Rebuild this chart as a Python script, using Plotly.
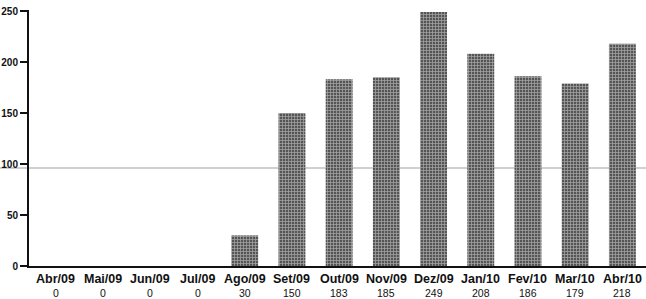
import plotly.graph_objects as go

months = ["Abr/09", "Mai/09", "Jun/09", "Jul/09", "Ago/09", "Set/09", "Out/09",
          "Nov/09", "Dez/09", "Jan/10", "Fev/10", "Mar/10", "Abr/10"]
values = [0, 0, 0, 0, 30, 150, 183, 185, 249, 208, 186, 179, 218]
value_labels = ["0", "0", "0", "0", "30", "150", "183", "185", "249", "208", "186", "179", "218"]
y_ticks = [0, 50, 100, 150, 200, 250]

x_idx = list(range(len(months)))
FONT = "Liberation Sans, Arial, sans-serif"

fig = go.Figure()
fig.add_trace(go.Bar(
    x=x_idx, y=values, width=0.57,
    marker=dict(color="#555555", line=dict(width=0),
                pattern=dict(shape="+", fgcolor="#eeeeee", bgcolor="#555555", size=3, solidity=0.45)),
))
# faint scan line
fig.add_shape(type="line", xref="paper", x0=-0.05, x1=1, yref="y", y0=96, y1=96,
              line=dict(color="rgba(150,150,150,0.6)", width=1.5), layer="below")

for i, (m, v) in enumerate(zip(months, value_labels)):
    fig.add_annotation(x=i, xref="x", y=0, yref="paper", yanchor="middle", yshift=-13,
                       text=f"<b>{m}</b>", showarrow=False,
                       font=dict(size=12.5, family=FONT, color="#111"))
    fig.add_annotation(x=i, xref="x", y=0, yref="paper", yanchor="middle", yshift=-27,
                       text=v, showarrow=False,
                       font=dict(size=10.5, family=FONT, color="#111"))

fig.update_layout(
    width=646, height=299,
    margin=dict(l=29, r=0, t=10, b=33, autoexpand=False),
    paper_bgcolor="white", plot_bgcolor="white",
    showlegend=False,
    font=dict(family=FONT, color="#111"),
)
fig.update_xaxes(
    range=[-0.57, 12.5], tickmode="array", tickvals=x_idx, showticklabels=False,
    showline=True, linecolor="#111", linewidth=2, ticks="", showgrid=False,
    zeroline=False, automargin=False,
)
fig.update_yaxes(
    range=[0, 251], tickmode="array", tickvals=y_ticks,
    showline=True, linecolor="#111", linewidth=2, ticks="outside", ticklen=7, tickwidth=1.5,
    tickcolor="#111", showgrid=False, zeroline=False, automargin=False,
    tickfont=dict(size=10, family=FONT, weight="bold"),
)
fig.write_html("out.html", config={"displayModeBar": False},
               post_script="document.body.style.margin='0';")
